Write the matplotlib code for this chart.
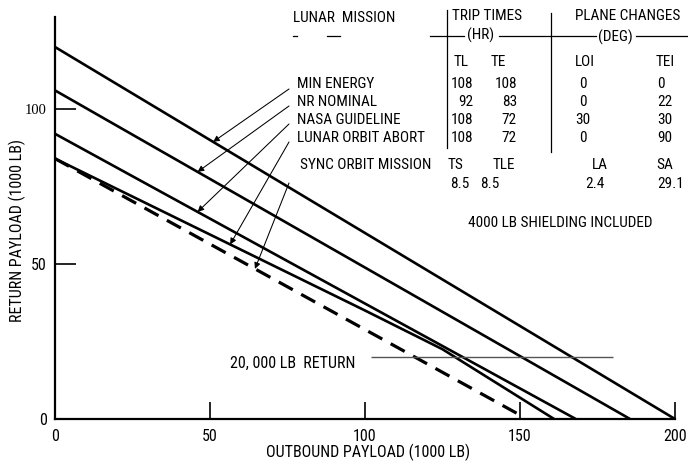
import numpy as np
import matplotlib
matplotlib.use("Agg")
import matplotlib.pyplot as plt
from matplotlib import font_manager

# ---- data -------------------------------------------------------------
# outbound payload (1000 lb) vs. return payload (1000 lb)
min_energy_x = [0, 200]
min_energy_y = [120, 0]
nr_nominal_x = [0, 185.5]
nr_nominal_y = [106, 0]
nasa_guideline_x = [0, 168]
nasa_guideline_y = [92, 0]
lunar_abort_x = [0, 100, 125, 161]
lunar_abort_y = [84, 35, 22.5, 0]
sync_orbit_x = [0, 150.5]
sync_orbit_y = [84, 1]

return_limit = 20            # 20,000 lb return
return_limit_span = [102, 180]

x_ticks = [0, 50, 100, 150, 200]
y_ticks = [0, 50, 100]

mission_names = ["MIN ENERGY", "NR NOMINAL", "NASA GUIDELINE", "LUNAR ORBIT ABORT"]
trip_tl = ["108", "92", "108", "108"]
trip_te = ["108", "83", "72", "72"]
plane_loi = ["0", "0", "30", "0"]
plane_tei = ["0", "22", "30", "90"]
sync_values = ["8.5", "8.5", "2.4", "29.1"]

# ---- fonts ------------------------------------------------------------
available = {f.name for f in font_manager.fontManager.ttflist}
sans = next((f for f in ["Liberation Sans Narrow", "Roboto Condensed",
                         "DejaVu Sans Condensed", "Liberation Sans"]
             if f in available), "DejaVu Sans")
serif = "Liberation Serif" if "Liberation Serif" in available else "DejaVu Serif"
plt.rcParams["font.family"] = [sans, "DejaVu Sans"]

W, H = 688, 468
fig = plt.figure(figsize=(W / 100, H / 100), dpi=100)
ax = fig.add_axes([55 / W, 49 / H, 620 / W, 402 / H])
ax.set_xlim(0, 200)
ax.set_ylim(0, 402 / 3.1)

for s in ["top", "right"]:
    ax.spines[s].set_visible(False)
for s in ["left", "bottom"]:
    ax.spines[s].set_linewidth(1.6)

ax.set_xticks(x_ticks)
ax.set_xticklabels([str(v) for v in x_ticks])
ax.set_yticks(y_ticks)
ax.set_yticklabels([str(v) for v in y_ticks])
ax.tick_params(axis="x", direction="in", length=12, width=1.2, pad=7, labelsize=11.5)
ax.tick_params(axis="y", direction="in", length=15, width=1.2, pad=6, labelsize=11.5)
ax.xaxis.get_major_ticks()[0].tick1line.set_visible(False)
ax.yaxis.get_major_ticks()[0].tick1line.set_visible(False)
ax.get_yticklabels()[2].set_fontfamily(serif)
ax.get_yticklabels()[2].set_fontsize(10.5)

fig.text(368 / W, 1 - 452 / H, "OUTBOUND PAYLOAD (1000 LB)",
         ha="center", va="center", fontsize=11.5)
fig.text(17 / W, 1 - 230 / H, "RETURN PAYLOAD (1000 LB)",
         ha="center", va="center", rotation=90, fontsize=11.5)

# ---- curves -----------------------------------------------------------
line_kw = dict(color="black", lw=1.9, clip_on=False, solid_capstyle="butt")
ax.plot(min_energy_x, min_energy_y, **line_kw)
ax.plot(nr_nominal_x, nr_nominal_y, **line_kw)
ax.plot(nasa_guideline_x, nasa_guideline_y, **line_kw)
ax.plot(lunar_abort_x, lunar_abort_y, **line_kw)
ax.plot(sync_orbit_x, sync_orbit_y, color="black", lw=2.3, ls=(0, (5, 3)),
        clip_on=False)

ax.hlines(return_limit, *return_limit_span, color="#555555", lw=1.0)
ax.text(return_limit_span[0] - 5, return_limit - 2, "20, 000 LB  RETURN",
        ha="right", va="center", fontsize=11.5)


# ---- annotation table (figure pixel positions) -------------------------
def ftxt(px, py, s, ha="left", size=11, **kw):
    fig.text(px / W, 1 - py / H, s, ha=ha, va="center", fontsize=size, **kw)


def fline(x0, x1, y0, y1, lw=0.9):
    fig.add_artist(plt.Line2D([x0 / W, x1 / W], [1 - y0 / H, 1 - y1 / H],
                              color="black", lw=lw, transform=fig.transFigure))


ftxt(293, 18, "LUNAR  MISSION")
ftxt(452, 16, "TRIP TIMES")
ftxt(628, 16, "PLANE CHANGES", ha="center")
ftxt(481, 35, "(HR)", ha="center")
ftxt(615, 37, "(DEG)", ha="center")
for a, b in [(293, 297), (327, 340), (430, 464), (499, 596), (636, 688)]:
    fline(a, b, 36, 36)
fline(447, 447, 10, 148)
fline(551, 551, 13, 152)

ftxt(461, 62, "TL", ha="center")
ftxt(498, 62, "TE", ha="center")
ftxt(585, 62, "LOI", ha="center")
ftxt(665, 62, "TEI", ha="center")

row_y = [84, 102, 120, 138]
for name, tl, te, loi, tei, yy in zip(mission_names, trip_tl, trip_te,
                                      plane_loi, plane_tei, row_y):
    ftxt(297, yy, name)
    ftxt(473, yy, tl, ha="right")
    ftxt(517, yy, te, ha="right")
    ftxt(583, yy, loi, ha="center")
    ftxt(657, yy, tei)

ftxt(300, 165, "SYNC ORBIT MISSION")
ftxt(448, 165, "TS")
ftxt(493, 165, "TLE")
ftxt(600, 165, "LA", ha="center")
ftxt(665, 165, "SA", ha="center")
ftxt(450, 184, sync_values[0])
ftxt(480, 184, sync_values[1])
ftxt(595, 184, sync_values[2], ha="center")
ftxt(657, 184, sync_values[3])

ftxt(560, 223, "4000 LB SHIELDING INCLUDED", ha="center")

# ---- leader arrows from the labels to their curves ----------------------
curves = [(min_energy_x, min_energy_y, 51, 89),
          (nr_nominal_x, nr_nominal_y, 46, 106),
          (nasa_guideline_x, nasa_guideline_y, 46, 124),
          (lunar_abort_x, lunar_abort_y, 56.5, 142),
          (sync_orbit_x, sync_orbit_y, 64.5, 183)]
for cx, cy, xt, ty in curves:
    yt = float(np.interp(xt, cx, cy))
    ax.annotate("", xy=(xt, yt), xycoords="data",
                xytext=(289, H - ty), textcoords="figure pixels",
                arrowprops=dict(arrowstyle="-|>", color="black", lw=0.75,
                                mutation_scale=9, shrinkA=0, shrinkB=0))

fig.savefig("out.png", dpi=100)
